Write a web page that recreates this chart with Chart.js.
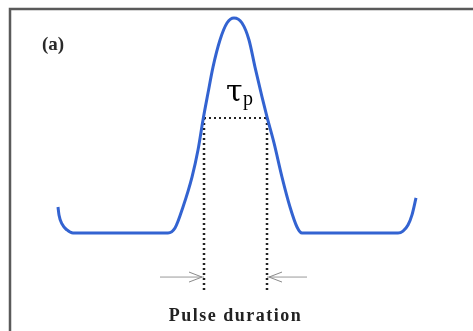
<!DOCTYPE html>
<html>
<head>
<meta charset="utf-8">
<style>
  html, body { margin: 0; padding: 0; background: #fff; }
  #wrap { width: 473px; height: 331px; }
</style>
<script src="https://cdn.jsdelivr.net/npm/chart.js@4/dist/chart.umd.min.js"></script>
</head>
<body>
<div id="wrap"><canvas id="pulse" width="473" height="331"></canvas></div>
<script>
// Pulse profile (time in arb. units, intensity normalised to peak)
const pulseTime = [-3.54, -3.52, -3.46, -3.36, -3.24, -1.34, -1.20, -1.04, -0.86, -0.74, -0.64, -0.54, -0.44,
                   -0.30, -0.16, -0.02, 0.14, 0.28, 0.40, 0.54, 0.64, 0.78, 0.94, 1.10, 1.24, 1.34,
                   3.26, 3.36, 3.46, 3.54, 3.62];
const pulseIntensity = [0.121, 0.084, 0.042, 0.014, 0, 0, 0.023, 0.121, 0.260, 0.386, 0.526, 0.651, 0.772,
                        0.898, 0.977, 1.0, 0.977, 0.898, 0.772, 0.633, 0.540, 0.419, 0.260, 0.121, 0.028, 0,
                        0, 0.009, 0.037, 0.084, 0.163];

// Pulse duration markers
const fwhmLevel = 0.535;
const fwhmEdges = [-0.62, 0.64];
const markerBottom = -0.279;
const arrowLevel = -0.205;
const arrowTails = [-1.5, 1.44];

// Axis ranges (axes themselves are hidden)
const xRange = [-4.7, 4.76];
const yRange = [-0.456, 1.084];

const pulseColor = '#3363d1';
const dotColor = '#222222';

function toPoints(xs, ys) {
    return xs.map((x, i) => ({ x: x, y: ys[i] }));
}

// Draws the frame, the arrow heads and the text labels
const decorPlugin = {
    id: 'decor',
    beforeDraw(chart) {
        const ctx = chart.ctx;
        ctx.save();
        ctx.fillStyle = '#ffffff';
        ctx.fillRect(0, 0, chart.width, chart.height);
        ctx.strokeStyle = '#5a5a5a';
        ctx.lineWidth = 2.5;
        ctx.beginPath();
        ctx.moveTo(10, chart.height);
        ctx.lineTo(10, 9);
        ctx.lineTo(chart.width, 9);
        ctx.stroke();
        ctx.restore();
    },
    afterDatasetsDraw(chart) {
        const ctx = chart.ctx;
        const xs = chart.scales.x;
        const ys = chart.scales.y;
        ctx.save();

        // open arrow heads pointing at the pulse edges
        ctx.strokeStyle = '#8a8a8a';
        ctx.lineWidth = 1;
        const ay = ys.getPixelForValue(arrowLevel);
        fwhmEdges.forEach((edge, i) => {
            const tip = xs.getPixelForValue(edge) + (i === 0 ? -2 : 2);
            const dir = i === 0 ? -1 : 1;
            ctx.beginPath();
            ctx.moveTo(tip + dir * 13, ay - 5);
            ctx.lineTo(tip, ay);
            ctx.lineTo(tip + dir * 13, ay + 5);
            ctx.stroke();
        });

        // "(a)"
        ctx.fillStyle = '#2a2a2a';
        ctx.font = 'bold 19px "Liberation Serif", serif';
        ctx.textAlign = 'left';
        ctx.textBaseline = 'alphabetic';
        ctx.fillText('(a)', 42, 50);

        // tau_p
        const cx = xs.getPixelForValue((fwhmEdges[0] + fwhmEdges[1]) / 2);
        ctx.fillStyle = '#000';
        ctx.font = '30px "DejaVu Serif", serif';
        ctx.fillText('τ', 226, 101);
        ctx.font = '20px "Liberation Serif", serif';
        ctx.fillText('p', 243, 105);

        // "Pulse duration"
        ctx.fillStyle = '#222';
        ctx.font = 'bold 18px "Liberation Serif", serif';
        ctx.textAlign = 'center';
        ctx.letterSpacing = '1.5px';
        ctx.fillText('Pulse duration', cx, 321);
        ctx.restore();
    }
};

const dotted = {
    borderColor: dotColor,
    borderWidth: 2.5,
    borderDash: [2, 3],
    pointRadius: 0,
    showLine: true
};

new Chart(document.getElementById('pulse').getContext('2d'), {
    type: 'scatter',
    data: {
        datasets: [
            {
                label: 'Pulse',
                data: toPoints(pulseTime, pulseIntensity),
                borderColor: pulseColor,
                borderWidth: 3,
                pointRadius: 0,
                showLine: true,
                cubicInterpolationMode: 'monotone'
            },
            Object.assign({ label: 'FWHM', data: toPoints(fwhmEdges, [fwhmLevel, fwhmLevel]) }, dotted, { borderWidth: 2 }),
            Object.assign({ label: 'Left edge', data: toPoints([fwhmEdges[0], fwhmEdges[0]], [fwhmLevel, markerBottom]) }, dotted),
            Object.assign({ label: 'Right edge', data: toPoints([fwhmEdges[1], fwhmEdges[1]], [fwhmLevel, markerBottom]) }, dotted),
            {
                label: 'Left arrow',
                data: toPoints([arrowTails[0], fwhmEdges[0]], [arrowLevel, arrowLevel]),
                borderColor: '#9a9a9a',
                borderWidth: 1,
                pointRadius: 0,
                showLine: true
            },
            {
                label: 'Right arrow',
                data: toPoints([arrowTails[1], fwhmEdges[1]], [arrowLevel, arrowLevel]),
                borderColor: '#9a9a9a',
                borderWidth: 1,
                pointRadius: 0,
                showLine: true
            }
        ]
    },
    options: {
        responsive: false,
        animation: false,
        layout: { padding: 0 },
        plugins: {
            legend: { display: false },
            tooltip: { enabled: false }
        },
        scales: {
            x: { type: 'linear', display: false, min: xRange[0], max: xRange[1] },
            y: { type: 'linear', display: false, min: yRange[0], max: yRange[1] }
        }
    },
    plugins: [decorPlugin]
});
</script>
</body>
</html>
